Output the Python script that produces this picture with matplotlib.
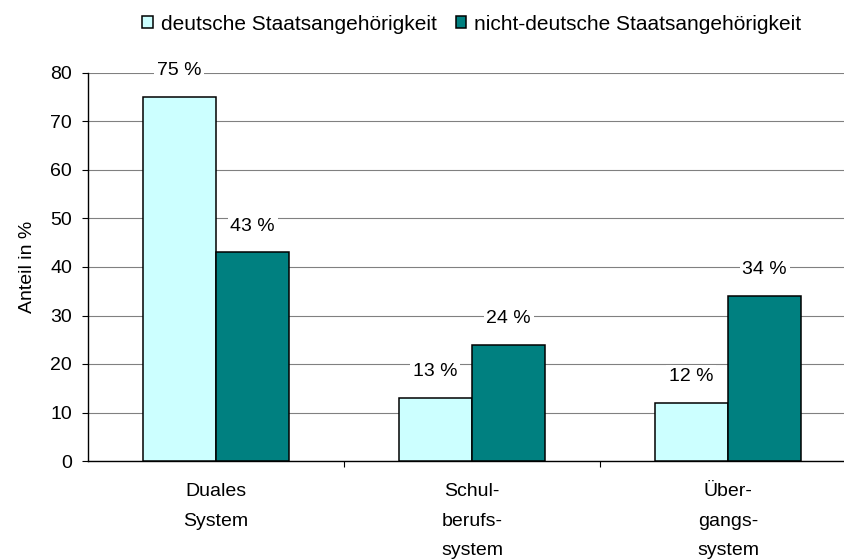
import numpy as np
import matplotlib
matplotlib.use('Agg')
import matplotlib.pyplot as plt

plt.rcParams['font.family'] = ['Liberation Sans', 'DejaVu Sans']

kategorien = ['Duales\nSystem', 'Schul-\nberufs-\nsystem', 'Über-\ngangs-\nsystem']
deutsch = [75, 13, 12]
nicht_deutsch = [43, 24, 34]
labels_deutsch = ['75 %', '13 %', '12 %']
labels_nicht = ['43 %', '24 %', '34 %']

fig = plt.figure(figsize=(8.45, 5.59), dpi=100)
ax = fig.add_axes([88/845, 1-461/559, 768/845, 388/559])

x = np.arange(len(kategorien))
w = 0.287
b1 = ax.bar(x - w/2, deutsch, w, color='#CCFFFF', edgecolor='black', linewidth=1.1,
            label='deutsche Staatsangehörigkeit', zorder=3)
b2 = ax.bar(x + w/2, nicht_deutsch, w, color='#008080', edgecolor='black', linewidth=1.1,
            label='nicht-deutsche Staatsangehörigkeit', zorder=3)

for bars, labs in [(b1, labels_deutsch), (b2, labels_nicht)]:
    for r, t in zip(bars, labs):
        ax.annotate(t, (r.get_x() + r.get_width()/2, r.get_height()),
                    xytext=(0, 19), textcoords='offset points', ha='center', va='center',
                    fontsize=14, zorder=4,
                    bbox=dict(facecolor='white', edgecolor='none', pad=2))

ax.set_xlim(-0.5, 2.5)
ax.set_ylim(0, 80)
ax.set_yticks(np.arange(0, 81, 10))
ax.yaxis.grid(True, color='#808080', linewidth=0.8)
ax.set_axisbelow(True)
ax.tick_params(axis='y', labelsize=14, length=4.5, width=0.8, pad=7)
ax.set_ylabel('Anteil in %', fontsize=14, labelpad=10)

ax.set_xticks(x)
ax.set_xticklabels(kategorien, fontsize=14, linespacing=1.95, va='top')
ax.tick_params(axis='x', which='major', length=0, pad=16)
ax.set_xticks([0.5, 1.5], minor=True)
ax.tick_params(axis='x', which='minor', length=4.5, width=0.8, direction='out')

for s in ['top', 'right']:
    ax.spines[s].set_visible(False)
ax.spines['left'].set_linewidth(1)
ax.spines['bottom'].set_linewidth(1)

fig.legend(loc='center', bbox_to_anchor=(472/845, 1-24/559), ncol=2, frameon=False,
           fontsize=15, handlelength=0.5, handleheight=0.5, handletextpad=0.4,
           columnspacing=0.9, borderpad=0)

fig.savefig('out.png', dpi=100)
